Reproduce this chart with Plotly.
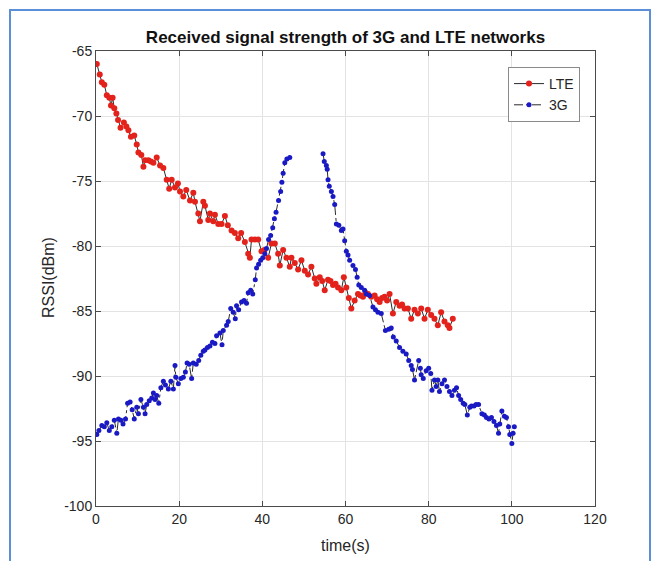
import plotly.graph_objects as go

# ---------------- data ----------------
lte_t = [0.2, 0.9, 1.4, 2.0, 2.6, 3.2, 3.6, 4.0, 4.4, 4.9, 5.3, 5.9, 6.7, 7.3, 7.8, 8.4, 9.2, 9.8,
         10.2, 10.9, 11.4, 11.8, 12.6, 13.2, 13.8, 14.6, 15.4, 16.2, 17.0, 17.6, 18.2, 19.0, 19.7,
         20.2, 21.0, 21.7, 22.6, 23.4, 23.8, 24.6, 25.0, 25.8, 26.2, 27.0, 27.4, 28.2, 28.6, 29.4,
         30.2, 31.0, 31.7, 32.6, 33.4, 34.2, 34.9, 35.8, 36.6, 37.0, 37.4, 38.2, 39.0, 39.8, 40.5,
         41.4, 42.2, 43.0, 43.8, 44.2, 45.0, 45.8, 46.6, 47.0, 47.8, 48.6, 49.4, 50.2, 51.0, 51.8,
         52.6, 53.0, 53.8, 54.4, 55.0, 55.8, 56.4, 57.0, 57.6, 58.2, 59.0, 59.6, 60.2, 60.8, 61.4,
         62.2, 63.0, 63.6, 64.2, 64.8, 65.4, 66.2, 67.0, 67.6, 68.2, 68.8, 69.4, 70.0, 70.6, 71.4,
         72.2, 73.0, 73.6, 74.2, 75.0, 75.8, 76.6, 77.4, 78.2, 79.0, 79.8, 80.6, 81.4, 82.2, 83.0,
         83.8, 84.6, 85.0, 85.8]
lte_rssi = [-66.0, -66.8, -67.4, -67.6, -68.4, -68.6, -69.2, -68.6, -69.4, -69.8, -70.3, -70.9,
            -70.5, -70.8, -71.1, -71.6, -71.5, -72.2, -72.8, -73.0, -73.9, -73.4, -73.4, -73.5,
            -73.6, -73.2, -73.8, -74.0, -74.9, -75.6, -74.9, -75.5, -75.2, -75.8, -76.2, -75.7,
            -76.5, -75.9, -76.6, -77.5, -78.1, -76.6, -76.9, -78.0, -77.5, -78.1, -77.6, -78.3,
            -78.3, -77.7, -78.4, -78.8, -79.0, -79.4, -79.0, -79.7, -80.6, -80.9, -79.5, -79.5,
            -79.5, -80.4, -80.3, -80.9, -79.8, -79.8, -80.6, -81.5, -80.3, -80.9, -81.6, -80.9,
            -81.3, -81.8, -81.1, -81.9, -82.2, -81.6, -82.5, -82.9, -82.4, -82.7, -83.4, -82.6,
            -82.7, -83.0, -82.9, -83.2, -83.4, -82.4, -83.2, -84.0, -84.8, -84.2, -83.7, -83.8,
            -83.9, -83.6, -83.7, -83.9, -83.8, -84.1, -84.3, -84.0, -83.9, -84.2, -83.7, -85.2,
            -84.3, -84.6, -84.5, -84.8, -84.8, -85.6, -84.9, -85.2, -84.8, -85.6, -84.9, -85.3,
            -85.6, -86.1, -85.1, -85.8, -86.1, -86.3, -85.6]

g3_t = [0.2, 0.7, 1.4, 2.0, 2.6, 3.2, 3.8, 4.4, 5.0, 5.4, 6.0, 6.5, 7.1, 7.6, 8.2, 8.7, 9.2, 9.8,
        10.2, 10.8, 11.4, 11.8, 12.2, 12.8, 13.4, 13.8, 14.2, 14.6, 15.1, 15.6, 16.2, 16.7, 17.4,
        18.0, 18.6, 19.0, 19.2, 19.8, 20.4, 21.0, 21.5, 21.9, 22.4, 23.0, 23.4, 24.1, 24.7, 25.2,
        25.8, 26.2, 26.8, 27.4, 28.0, 28.6, 29.0, 29.8, 30.3, 30.6, 31.4, 31.8, 32.4, 33.0, 33.5,
        33.8, 34.3, 35.0, 35.6, 36.2, 36.6, 37.2, 37.7, 38.3, 38.6, 39.1, 39.6, 40.1, 40.6, 41.0,
        41.5, 42.0, 42.5, 42.9, 43.3, 43.9, 44.4, 44.7, 45.0, 45.4, 45.9, 46.6,
        50.6,
        54.6, 54.9, 55.4, 55.6, 55.8, 56.1, 56.6, 57.0, 57.4, 57.8, 58.4, 59.0, 59.4, 59.8, 60.2,
        60.6, 61.0, 61.8, 62.4, 62.8, 63.2, 63.8, 64.6, 65.0, 65.8, 66.6, 67.2, 67.8, 68.6, 69.6,
        70.4, 71.0, 71.5, 72.2, 73.0, 73.8, 74.6, 75.2, 75.8, 76.1, 76.6, 77.6, 78.0, 78.2, 78.7,
        79.4, 80.0, 80.5, 80.8, 81.4, 81.8, 82.2, 82.6, 83.2, 83.8, 84.4, 85.0, 85.6, 86.2, 86.7,
        87.2, 87.7, 88.3, 88.7, 89.3, 89.9, 90.3, 90.9, 91.4, 92.0, 92.8, 93.4, 93.9, 94.5, 95.1,
        95.7, 96.3, 96.8, 97.1, 97.6, 98.2, 98.7, 99.2, 99.5, 100.0, 100.3, 100.6]
g3_rssi = [-94.5, -94.2, -93.8, -93.9, -93.6, -94.2, -93.9, -93.4, -94.4, -93.3, -93.4, -93.7,
           -93.3, -92.1, -92.0, -92.6, -93.3, -92.4, -92.9, -91.8, -92.4, -92.9, -92.2, -91.9,
           -91.7, -91.3, -91.8, -91.5, -92.1, -90.9, -90.4, -90.7, -91.0, -90.4, -91.0, -89.2,
           -90.1, -90.6, -90.2, -90.1, -89.7, -89.0, -89.1, -90.2, -89.0, -89.1, -88.8, -88.4,
           -88.1, -88.0, -87.8, -87.7, -87.4, -87.5, -86.9, -86.7, -87.6, -86.5, -86.1, -85.8,
           -84.8, -85.1, -85.6, -84.6, -84.9, -84.3, -84.2, -84.4, -83.6, -83.4, -83.7, -82.6,
           -81.7, -81.4, -81.1, -80.9, -80.6, -80.2, -79.5, -79.2, -78.6, -77.9, -77.4, -76.5,
           -75.8, -75.1, -74.4, -73.6, -73.3, -73.2,
           None,
           -72.9, -73.5, -73.8, -74.1, -74.9, -75.4, -75.8, -76.2, -76.8, -78.3, -78.4, -78.8,
           -78.7, -79.6, -80.4, -80.7, -81.1, -81.5, -81.8, -82.4, -83.0, -83.2, -83.4, -83.7,
           -83.8, -84.7, -84.9, -85.1, -85.2, -86.5, -86.4, -86.3, -87.0, -87.3, -87.8, -88.1,
           -88.3, -88.8, -89.2, -89.5, -90.3, -88.8, -89.4, -89.9, -90.2, -89.6, -89.4, -89.8,
           -91.1, -90.3, -90.8, -90.3, -91.2, -90.6, -90.3, -90.8, -91.2, -91.5, -91.1, -90.9,
           -91.5, -91.8, -92.1, -92.2, -93.0, -92.4, -92.3, -92.3, -92.2, -92.2, -92.9, -93.0,
           -93.2, -93.3, -93.2, -93.5, -93.8, -94.4, -93.7, -92.7, -93.1, -93.2, -93.9, -94.5,
           -95.2, -94.4, -93.9]

x_ticks = [0, 20, 40, 60, 80, 100, 120]
x_tick_labels = ["0", "20", "40", "60", "80", "100", "120"]
y_ticks = [-100, -95, -90, -85, -80, -75, -70, -65]
y_tick_labels = ["-100", "-95", "-90", "-85", "-80", "-75", "-70", "-65"]

title_text = "Received signal strength of 3G and LTE networks"
x_label = "time(s)"
y_label = "RSSI(dBm)"

# ---------------- figure ----------------
W, H = 659, 561
ML, MR, MT, MB = 96, 64, 51, 55
FONT = "Liberation Sans, Arial, sans-serif"
TXT = "#262626"

fig = go.Figure()
fig.add_trace(go.Scatter(
    x=lte_t, y=lte_rssi, name="LTE", mode="lines+markers",
    line=dict(color="#2a2a2a", width=1),
    marker=dict(color="#e3221b", size=6, line=dict(width=0)),
))
fig.add_trace(go.Scatter(
    x=g3_t, y=g3_rssi, name="3G", mode="lines+markers", connectgaps=False,
    line=dict(color="#2a2a2a", width=1, dash="dashdot"),
    marker=dict(color="#1a1ac4", size=5, line=dict(width=0)),
))

axis_common = dict(
    showgrid=True, gridcolor="#e3e3e3", gridwidth=1,
    showline=True, linecolor="#4a4a4a", linewidth=1, mirror="ticks",
    ticks="inside", ticklen=5, tickcolor="#4a4a4a", tickwidth=1,
    zeroline=False, tickfont=dict(family=FONT, size=14, color=TXT),
)
fig.update_xaxes(range=[0, 120], tickvals=x_ticks, ticktext=x_tick_labels, **axis_common)
fig.update_yaxes(range=[-100, -65], tickvals=y_ticks, ticktext=y_tick_labels, **axis_common)

pw = W - ML - MR
ph = H - MT - MB

def px_x(px):
    return (px - ML) / pw

def px_y(py):
    return (H - MB - py) / ph

fig.update_layout(
    width=W, height=H,
    margin=dict(l=ML, r=MR, t=MT, b=MB, pad=0),
    paper_bgcolor="white", plot_bgcolor="white",
    font=dict(family=FONT, size=14, color=TXT),
    title=dict(text="<b>" + title_text + "</b>", x=0.5, xref="paper",
               y=1 - 37 / H, yref="container", xanchor="center", yanchor="middle",
               font=dict(family=FONT, size=17, color="#111111")),
    showlegend=True,
    legend=dict(x=px_x(580), y=px_y(67), xanchor="right", yanchor="top",
                bgcolor="white", bordercolor="#8a8a8a", borderwidth=1,
                font=dict(family=FONT, size=14, color=TXT),
                tracegroupgap=0, itemwidth=30),
    annotations=[
        dict(text=x_label, xref="paper", yref="paper", x=0.5, y=px_y(545),
             xanchor="center", yanchor="middle", showarrow=False,
             font=dict(family=FONT, size=16, color=TXT)),
        dict(text=y_label, xref="paper", yref="paper", x=px_x(48), y=px_y(278),
             xanchor="center", yanchor="middle", textangle=-90, showarrow=False,
             font=dict(family=FONT, size=16, color=TXT)),
    ],
    shapes=[
        dict(type="rect", xref="paper", yref="paper",
             x0=px_x(10), x1=px_x(650), y0=px_y(600), y1=px_y(10),
             line=dict(color="#5b8fd9", width=2), fillcolor="rgba(0,0,0,0)", layer="below"),
    ],
)

fig.write_html("out.html")
